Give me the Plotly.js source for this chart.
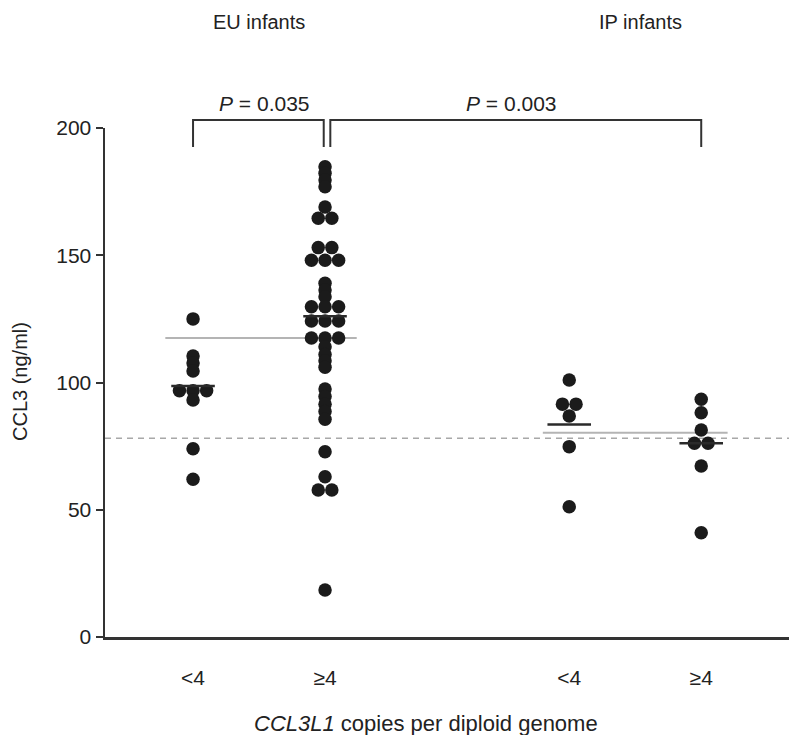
<!DOCTYPE html>
<html>
<head>
<meta charset="utf-8">
<script src="https://cdn.plot.ly/plotly-3.0.1.min.js"></script>
<style>html,body{margin:0;padding:0;background:#fff;}#chart{width:789px;height:735px;}</style>
</head>
<body>
<div id="chart"></div>
<script>
// ---- data ----
const categories = ['<4', '\u22654', '<4', '\u22654'];
const catPos = [1, 2, 3.85, 4.85];
const groupNames = ['EU infants', 'IP infants'];

const euLow = [125, 110.4, 107.7, 104.5, 96.8, 96.8, 96.8, 93.1, 74, 62];
const euHigh = [184.8, 182.2, 179.6, 176.9, 169, 164.5, 164.5, 153, 153, 148, 148, 148,
  139, 136.3, 133.7, 129.8, 129.8, 129.8, 124.2, 124.2, 124.2, 117.5, 117.5, 117.5,
  114, 111, 108.5, 106, 97.4, 94.5, 91.5, 88.6, 85.6, 72.8, 63, 57.8, 57.8, 18.5];
const ipLow = [101, 91.5, 91.5, 86.8, 74.8, 51.2];
const ipHigh = [93.4, 88.1, 81.3, 76.1, 76.1, 67.2, 41];

const medians = [98.6, 126.0, 83.5, 76.1];
const groupMeans = [117.5, 80.3];
const refLevel = 78.1;
const pLabels = ['0.035', '0.003'];

// ---- build ----
const groups = [euLow, euHigh, ipLow, ipHigh];
const step = 0.103;
const xr = [0.333, 5.515];
const font = 'Arial, "Liberation Sans", sans-serif';

function swarm(vals, center) {
  const counts = {}, seen = {};
  vals.forEach(v => counts[v] = (counts[v] || 0) + 1);
  return vals.map(v => {
    const n = counts[v];
    const i = seen[v] = (seen[v] === undefined ? 0 : seen[v] + 1);
    return center + (i - (n - 1) / 2) * step;
  });
}

const traces = [];
const meanSpans = [[catPos[0] - 0.21, catPos[1] + 0.24], [catPos[2] - 0.2, catPos[3] + 0.2]];
groupMeans.forEach((m, i) => {
  traces.push({x: meanSpans[i], y: [m, m], mode: 'lines', type: 'scatter',
    line: {color: '#b4b4b4', width: 2}, hoverinfo: 'skip', showlegend: false});
});
groups.forEach((g, i) => {
  traces.push({x: swarm(g, catPos[i]), y: g, mode: 'markers', type: 'scatter',
    marker: {color: '#1b1b1b', size: 13.5, line: {width: 0}}, showlegend: false});
});
medians.forEach((m, i) => {
  traces.push({x: [catPos[i] - 0.165, catPos[i] + 0.165], y: [m, m], mode: 'lines', type: 'scatter',
    line: {color: '#2a2a2a', width: 2.5}, hoverinfo: 'skip', showlegend: false});
});

const plotH = 735 - 128 - 98;
const pyTop = (637 - 120) / plotH, pyEnd = (637 - 147) / plotH;
function bracket(xa, xb) {
  return {type: 'path', xref: 'x', yref: 'paper',
    path: `M ${xa},${pyEnd} L ${xa},${pyTop} L ${xb},${pyTop} L ${xb},${pyEnd}`,
    line: {color: '#333', width: 2}};
}

const shapes = [
  {type: 'line', xref: 'paper', yref: 'y', x0: 0, x1: 1, y0: refLevel, y1: refLevel,
   line: {color: '#a8a8a8', width: 1.5, dash: '6px,5px'}, layer: 'below'},
  bracket(catPos[0], catPos[1] - 0.01),
  bracket(catPos[1] + 0.04, catPos[3])
];

function ann(text, x, xref, ypx, size, extra) {
  return Object.assign({text: text, x: x, xref: xref, y: (637 - ypx) / plotH, yref: 'paper',
    xanchor: 'center', yanchor: 'middle', showarrow: false,
    font: {family: font, size: size, color: '#222'}}, extra || {});
}

const annotations = [
  ann(groupNames[0], (catPos[0] + catPos[1]) / 2, 'x', 22, 20),
  ann(groupNames[1], (catPos[2] + catPos[3]) / 2 + 0.04, 'x', 22, 20),
  ann('<i>P</i> = ' + pLabels[0], 1.54, 'x', 104, 21),
  ann('<i>P</i> = ' + pLabels[1], 3.41, 'x', 104, 21),
  ann('<i>CCL3L1</i> copies per diploid genome', (426 - 105) / 684, 'paper', 723, 22),
  ann('CCL3 (ng/ml)', (20 - 105) / 684, 'paper', 382, 20, {textangle: -90})
];

const layout = {
  width: 789, height: 735,
  margin: {l: 105, r: 0, t: 128, b: 98, pad: 0},
  paper_bgcolor: '#fff', plot_bgcolor: '#fff',
  showlegend: false,
  xaxis: {range: xr, showgrid: false, zeroline: false, showline: true, linecolor: '#333', linewidth: 2.5,
    tickmode: 'array', tickvals: catPos, ticktext: categories, ticks: 'outside', ticklen: 20,
    tickcolor: 'rgba(0,0,0,0)', tickfont: {family: font, size: 21, color: '#222'}},
  yaxis: {range: [0, 200], showgrid: false, zeroline: false, showline: true, linecolor: '#333', linewidth: 2.5,
    tickmode: 'array', tickvals: [0, 50, 100, 150, 200], ticks: 'outside', ticklen: 7, tickwidth: 2,
    tickcolor: '#333', tickfont: {family: font, size: 21, color: '#222'}},
  shapes: shapes, annotations: annotations
};

Plotly.newPlot('chart', traces, layout, {displayModeBar: false, staticPlot: true});
</script>
</body>
</html>
